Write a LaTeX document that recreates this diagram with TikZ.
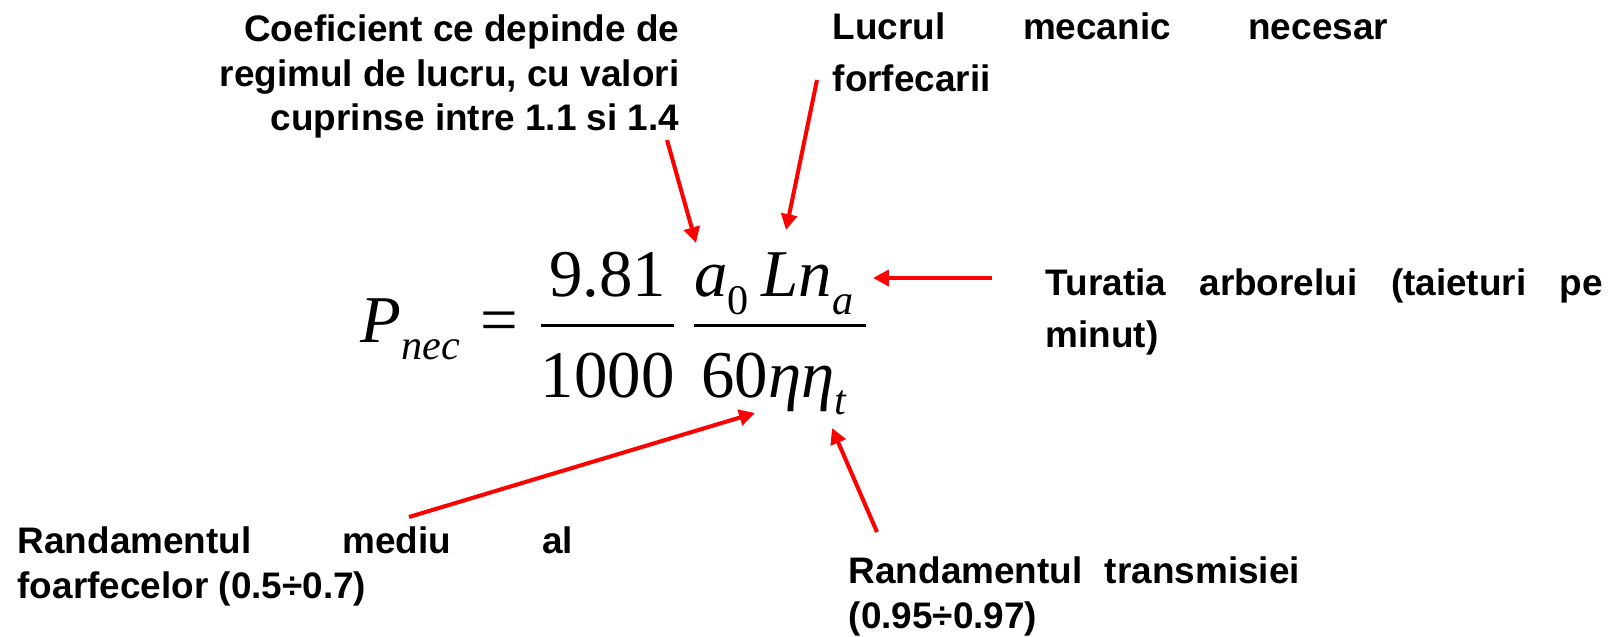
\documentclass[tikz,border=0pt]{standalone}
\usepackage{fix-cm}
\usepackage{amsmath}
\usepackage{fontspec}
\setmainfont{Liberation Serif}
\newfontfamily\labelfont{Liberation Sans}
\usetikzlibrary{arrows.meta}
\DeclareMathSizes{19}{19}{12}{9}

\begin{document}
\begin{tikzpicture}[
  x=0.01cm, y=-0.01cm,
  note/.style={inner sep=0, font=\labelfont\bfseries\fontsize{10.5}{12.7}\selectfont},
  widenote/.style={note, font=\labelfont\bfseries\fontsize{10.5}{14.7}\selectfont},
  pointer/.style={red, line width=1.15pt, -{Triangle[length=4.5pt,width=4.5pt]}},
  formula/.style={inner sep=0, font=\fontsize{19}{23}\selectfont}
]
\useasboundingbox (0,0) rectangle (1624,636);

% the formula
\node[formula, anchor=base west] (power) at (360,342)
  {$\fontdimen16\textfont2=5pt\displaystyle \textit{P}_{\textit{nec}} \mathrel{\text{=}} \frac{\text{9.81}}{\rule{0pt}{18pt}\text{1000}}\,\frac{\textit{a}_{\text{0}}\,\textit{Ln}_{\textit{a}}\,}{\rule{0pt}{18pt}\text{60}\textit{ηη}_{\textit{t}}\,}$};

% labels
\node[note, align=right, anchor=north east] (coef) at (680,14)
  {Coeficient ce depinde de\\regimul de lucru, cu valori\\cuprinse intre 1.1 si 1.4};
\node[widenote, align=left, anchor=north west] (work) at (832,12)
  {\makebox[5.55cm][s]{Lucrul mecanic necesar}\\forfecarii};
\node[widenote, align=left, anchor=north west] (speed) at (1045,268)
  {\makebox[5.57cm][s]{Turatia arborelui (taieturi pe}\\minut)};
\node[note, align=left, anchor=north west] (shear) at (17,526)
  {\makebox[5.55cm][s]{Randamentul mediu al}\\foarfecelor (0.5÷0.7)};
\node[note, align=left, anchor=north west] (drive) at (848,556)
  {\makebox[4.51cm][s]{Randamentul transmisiei}\\(0.95÷0.97)};

% arrow ends
\coordinate (coefTail) at (667,140);
\coordinate (coefTip) at (696,243);
\coordinate (workTail) at (817,80);
\coordinate (workTip) at (786,230);
\coordinate (speedTail) at (992,278);
\coordinate (speedTip) at (873,278);
\coordinate (shearTail) at (409,517);
\coordinate (shearTip) at (755,413);
\coordinate (driveTail) at (877,532);
\coordinate (driveTip) at (832,428);

\draw[pointer] (coefTail) -- (coefTip);
\draw[pointer] (workTail) -- (workTip);
\draw[pointer] (speedTail) -- (speedTip);
\draw[pointer] (shearTail) -- (shearTip);
\draw[pointer] (driveTail) -- (driveTip);
\end{tikzpicture}
\end{document}
